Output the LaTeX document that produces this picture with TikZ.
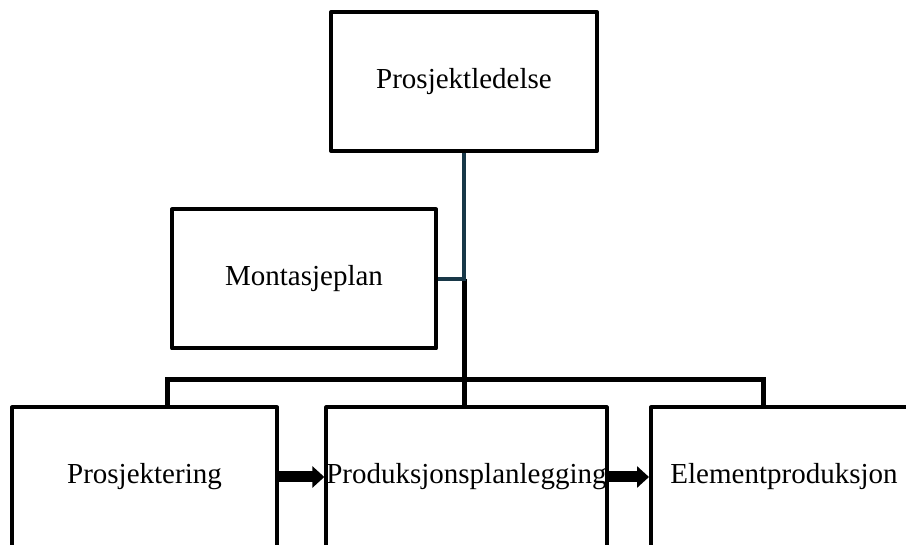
\documentclass[tikz,border=0pt]{standalone}
\usepackage{fontspec}
\setmainfont{Liberation Serif}
\usetikzlibrary{arrows.meta}
\definecolor{linkteal}{RGB}{24,56,72}
\begin{document}
\begin{tikzpicture}[x=1pt,y=-1pt,
  box/.style={draw=black,line width=4pt,line join=round,fill=white,
    minimum width=#1,minimum height=139pt,inner sep=0pt,
    font=\fontsize{29}{33}\selectfont},
  box/.default=266pt,
  link/.style={draw=linkteal,line width=3.5pt},
  bus/.style={draw=black,line width=5pt},
  flow/.style={draw=black,line width=11pt,
    -{Triangle[length=12pt,width=21pt]}}]
\useasboundingbox (0,0) rectangle (906,545);
\clip (0,0) rectangle (906,545);

% boxes
\node[box] (pl) at (464,81.5) {Prosjektledelse};
\node[box=264pt] (mp) at (304,279) {Montasjeplan};
\node[box=265pt] (pr) at (144.5,477) {Prosjektering};
\node[box=280pt] (pp) at (466.5,477) {Produksjonsplanlegging};
\node[box] (ep) at (784,477) {Elementproduksjon};

% helper points
\coordinate (j) at (pl.south |- mp.east);
\coordinate (bl) at (167,380);
\coordinate (br) at (763,380);

% reporting lines
\draw[bus] (j) -- (j |- pp.north);
\draw[bus] (pr.north -| bl) -- (bl) -- (br) -- (br |- ep.north);
\draw[link] (pl.south) |- (mp.east);

% process flow
\draw[flow] (pr.east) -- (pp.west);
\draw[flow] (pp.east) -- (ep.west);
\end{tikzpicture}
\end{document}
